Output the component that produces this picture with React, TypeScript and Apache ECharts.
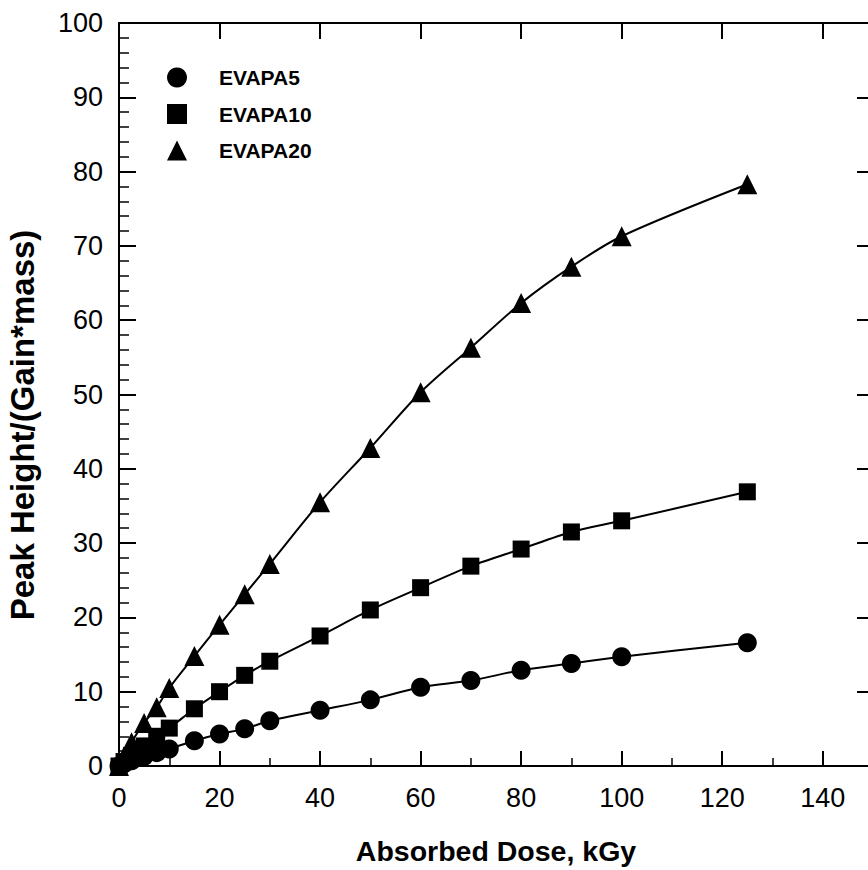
import React, { useEffect, useRef } from "react";
import * as echarts from "echarts";

const dose = [0, 1, 2.5, 5, 7.5, 10, 15, 20, 25, 30, 40, 50, 60, 70, 80, 90, 100, 125];
const evapa5 = [0, 0.3, 0.7, 1.3, 1.8, 2.3, 3.4, 4.3, 5.0, 6.1, 7.5, 8.9, 10.6, 11.5, 12.9, 13.8, 14.7, 16.6];
const evapa10 = [0, 0.6, 1.4, 2.7, 4.0, 5.1, 7.7, 10.0, 12.2, 14.1, 17.5, 21.0, 24.0, 26.9, 29.2, 31.5, 33.0, 36.9];
const evapa20 = [0, 1.3, 3.2, 5.8, 7.9, 10.5, 14.8, 19.0, 23.1, 27.2, 35.5, 42.8, 50.3, 56.3, 62.3, 67.2, 71.3, 78.3];
const seriesNames = ["EVAPA5", "EVAPA10", "EVAPA20"];
const seriesSymbols = ["circle", "rect", "triangle"];
const xTickLabels = [0, 20, 40, 60, 80, 100, 120, 140];

const FONT = '"Liberation Sans", Arial, Helvetica, sans-serif';

export default function App() {
  const ref = useRef<HTMLDivElement>(null);
  useEffect(() => {
    document.body.style.margin = "0";
    document.body.style.overflow = "hidden";
    if (!ref.current) return;
    const chart = echarts.init(ref.current, undefined, { renderer: "svg", width: 880, height: 870 });
    const values = [evapa5, evapa10, evapa20];
    const sizes = [19, 17, 20];
    const series = seriesNames.map((name, i) => ({
      name,
      type: "line",
      xAxisIndex: 0,
      yAxisIndex: 0,
      smooth: 0.3,
      symbol: seriesSymbols[i],
      symbolSize: sizes[i],
      itemStyle: { color: "#000" },
      lineStyle: { color: "#000", width: 2 },
      data: dose.map((d, j) => [d, values[i][j]]),
    }));
    const axisLine = { show: true, onZero: false, lineStyle: { color: "#000", width: 2 } };
    chart.setOption({
      animation: false,
      backgroundColor: "#fff",
      grid: { left: 119, top: 23, right: 7, bottom: 97, containLabel: false },
      legend: {
        orient: "vertical",
        left: 162,
        top: 62,
        itemWidth: 20,
        itemHeight: 20,
        itemGap: 15.5,
        data: seriesNames.map((n, i) => ({ name: n, icon: seriesSymbols[i] })),
        textStyle: {
          fontSize: 21,
          fontWeight: "bold",
          color: "#000",
          fontFamily: FONT,
          padding: [0, 0, 0, 27],
        },
      },
      xAxis: [
        {
          type: "value",
          position: "bottom",
          min: 0,
          max: 150,
          interval: 20,
          axisLine,
          axisTick: { show: true, inside: true, length: 15, lineStyle: { color: "#000", width: 2 } },
          minorTick: { show: true, splitNumber: 2, length: 8, lineStyle: { color: "#000", width: 1.5 } },
          splitLine: { show: false },
          minorSplitLine: { show: false },
          axisLabel: {
            fontSize: 27,
            color: "#000",
            fontFamily: FONT,
            margin: 18,
            formatter: (v: number) => (xTickLabels.indexOf(v) >= 0 ? String(v) : ""),
          },
          name: "Absorbed Dose, kGy",
          nameLocation: "middle",
          nameGap: 70,
          nameTextStyle: { fontSize: 28.5, fontWeight: "bold", color: "#000", fontFamily: FONT },
        },
        {
          type: "value",
          position: "top",
          min: 0,
          max: 150,
          interval: 20,
          axisLine,
          axisTick: { show: true, inside: true, length: 16, lineStyle: { color: "#000", width: 2 } },
          axisLabel: { show: false },
          splitLine: { show: false },
        },
      ],
      yAxis: [
        {
          type: "value",
          position: "left",
          min: 0,
          max: 100,
          interval: 10,
          axisLine,
          axisTick: { show: true, inside: true, length: 17, lineStyle: { color: "#000", width: 2 } },
          minorTick: { show: true, splitNumber: 5, length: 10, lineStyle: { color: "#000", width: 1.5 } },
          splitLine: { show: false },
          minorSplitLine: { show: false },
          axisLabel: { fontSize: 27, color: "#000", fontFamily: FONT, margin: 16 },
        },
        {
          type: "value",
          position: "right",
          min: 0,
          max: 100,
          interval: 10,
          axisLine,
          axisTick: { show: true, inside: true, length: 16, lineStyle: { color: "#000", width: 2 } },
          axisLabel: { show: false },
          splitLine: { show: false },
        },
      ],
      graphic: [
        {
          type: "text",
          x: 22,
          y: 425,
          rotation: Math.PI / 2,
          style: {
            text: "Peak Height/(Gain*mass)",
            font: `bold 33px ${FONT}`,
            fill: "#000",
            align: "center",
            verticalAlign: "middle",
          },
        },
      ],
      series,
    });
    return () => chart.dispose();
  }, []);
  return (
    <div style={{ position: "absolute", left: 0, top: 0, width: 868, height: 870, overflow: "hidden" }}>
      <div ref={ref} style={{ width: 880, height: 870 }} />
    </div>
  );
}
